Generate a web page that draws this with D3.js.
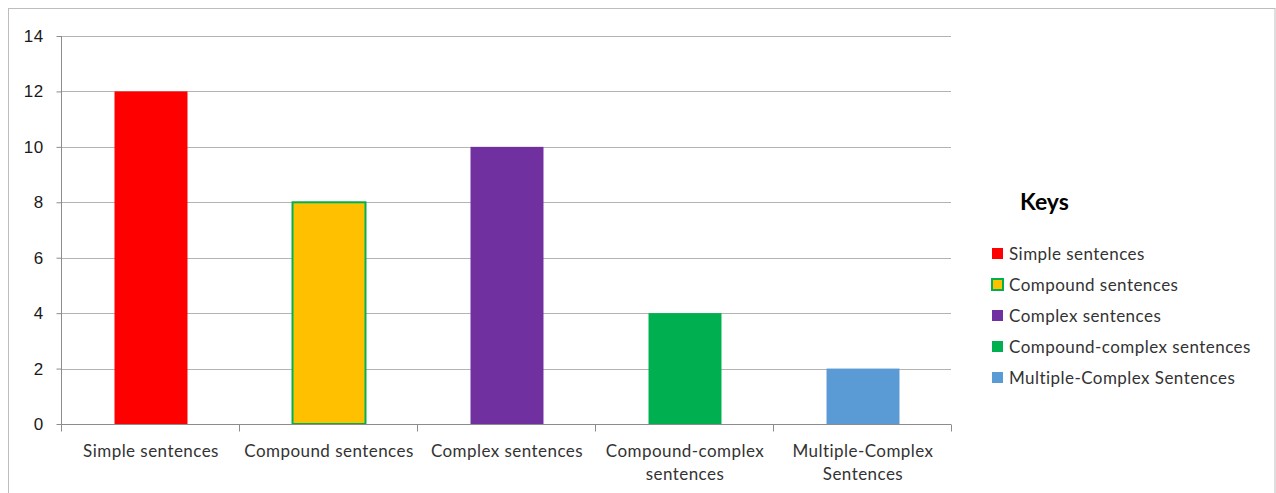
<!DOCTYPE html>
<html>
<head>
<meta charset="utf-8">
<script src="https://cdn.jsdelivr.net/npm/d3@7"></script>
<style>
  body { margin: 0; background: #fff; }
  svg { display: block; font-family: Lato, "Open Sans", sans-serif; }
</style>
</head>
<body>
<div id="chart"></div>
<script>
// data
const categories = ["Simple sentences", "Compound sentences", "Complex sentences",
                    "Compound-complex sentences", "Multiple-Complex Sentences"];
const axisLabels = [["Simple sentences"], ["Compound sentences"], ["Complex sentences"],
                    ["Compound-complex", "sentences"], ["Multiple-Complex", "Sentences"]];
const values = [12, 8, 10, 4, 2];
const fills = ["#FF0000", "#FFC000", "#7030A0", "#00B050", "#5B9BD5"];
const strokes = [null, "#00B050", null, null, null];
const yTicks = [0, 2, 4, 6, 8, 10, 12, 14];

const width = 1276, height = 493;
const margin = {left: 61, right: 325, top: 36, bottom: 69};

const svg = d3.select("#chart").append("svg")
    .attr("width", width)
    .attr("height", height);

// outer chart border
svg.append("rect")
    .attr("x", 8.5).attr("y", 8.5)
    .attr("width", 1275 - 8.5).attr("height", 500)
    .attr("fill", "none")
    .attr("stroke", "#bdbdbd");

const x = d3.scaleBand()
    .domain(categories)
    .range([margin.left + 1, width - margin.right + 1])
    .paddingInner(0.59)
    .paddingOuter(0.295);

const y = d3.scaleLinear()
    .domain([0, 14])
    .range([height - margin.bottom, margin.top]);

// gridlines
svg.append("g")
    .selectAll("line")
    .data(yTicks.filter(d => d > 0))
    .join("line")
    .attr("x1", margin.left).attr("x2", width - margin.right)
    .attr("y1", d => Math.round(y(d)) + 0.5).attr("y2", d => Math.round(y(d)) + 0.5)
    .attr("stroke", "#b3b3b3");

// bars
svg.append("g")
    .selectAll("rect")
    .data(categories)
    .join("rect")
    .attr("x", d => x(d))
    .attr("y", (d, i) => y(values[i]))
    .attr("width", x.bandwidth())
    .attr("height", (d, i) => y(0) - y(values[i]))
    .attr("fill", (d, i) => fills[i])
    .attr("stroke", (d, i) => strokes[i] || "none")
    .attr("stroke-width", 2);

// y axis
const yAxis = svg.append("g")
    .attr("transform", `translate(${margin.left + 0.5},0)`)
    .call(d3.axisLeft(y).tickValues(yTicks).tickSize(5).tickPadding(13));
yAxis.select(".domain").attr("stroke", "#8c8c8c").attr("d", `M0,${y(14)}V${y(0)}`);
yAxis.selectAll(".tick line").attr("stroke", "#8c8c8c");
yAxis.selectAll(".tick text")
    .attr("fill", "#1a1a1a")
    .style("font-size", "17px")
    .style("letter-spacing", "0.4px");

// x axis
const xEdge = d3.scaleLinear().domain([0, categories.length])
    .range([margin.left, width - margin.right]);
const xg = svg.append("g").attr("transform", `translate(0,${Math.round(y(0)) + 0.5})`);
xg.append("line")
    .attr("x1", margin.left).attr("x2", width - margin.right)
    .attr("stroke", "#8c8c8c");
xg.selectAll(".tk")
    .data(d3.range(categories.length + 1))
    .join("line")
    .attr("class", "tk")
    .attr("x1", d => Math.round(xEdge(d)) + 0.5).attr("x2", d => Math.round(xEdge(d)) + 0.5)
    .attr("y1", 0).attr("y2", 7)
    .attr("stroke", "#8c8c8c");
xg.selectAll(".lbl")
    .data(categories)
    .join("text")
    .attr("class", "lbl")
    .attr("x", d => x(d) + x.bandwidth() / 2)
    .attr("y", 32)
    .attr("text-anchor", "middle")
    .attr("fill", "#333")
    .style("font-size", "17px")
    .style("letter-spacing", "0.45px")
    .selectAll("tspan")
    .data((d, i) => axisLabels[i])
    .join("tspan")
    .attr("x", function() { return this.parentNode.getAttribute("x"); })
    .attr("dy", (d, i) => i === 0 ? 0 : 23)
    .text(d => d);

// legend
const legend = svg.append("g").attr("transform", "translate(991,0)");
legend.append("text")
    .attr("x", 29).attr("y", 210)
    .attr("font-weight", "bold")
    .attr("fill", "#000")
    .style("font-size", "23px")
    .text("Keys");
const items = legend.selectAll(".item")
    .data(categories)
    .join("g")
    .attr("class", "item")
    .attr("transform", (d, i) => `translate(0,${254 + i * 31})`);
items.append("rect")
    .attr("x", 1).attr("y", -6)
    .attr("width", 11).attr("height", 11)
    .attr("fill", (d, i) => fills[i])
    .attr("stroke", (d, i) => strokes[i] || "none")
    .attr("stroke-width", 2);
items.append("text")
    .attr("x", 18).attr("y", 6)
    .attr("fill", "#333")
    .style("font-size", "17px")
    .style("letter-spacing", "0.45px")
    .text(d => d);
</script>
</body>
</html>
